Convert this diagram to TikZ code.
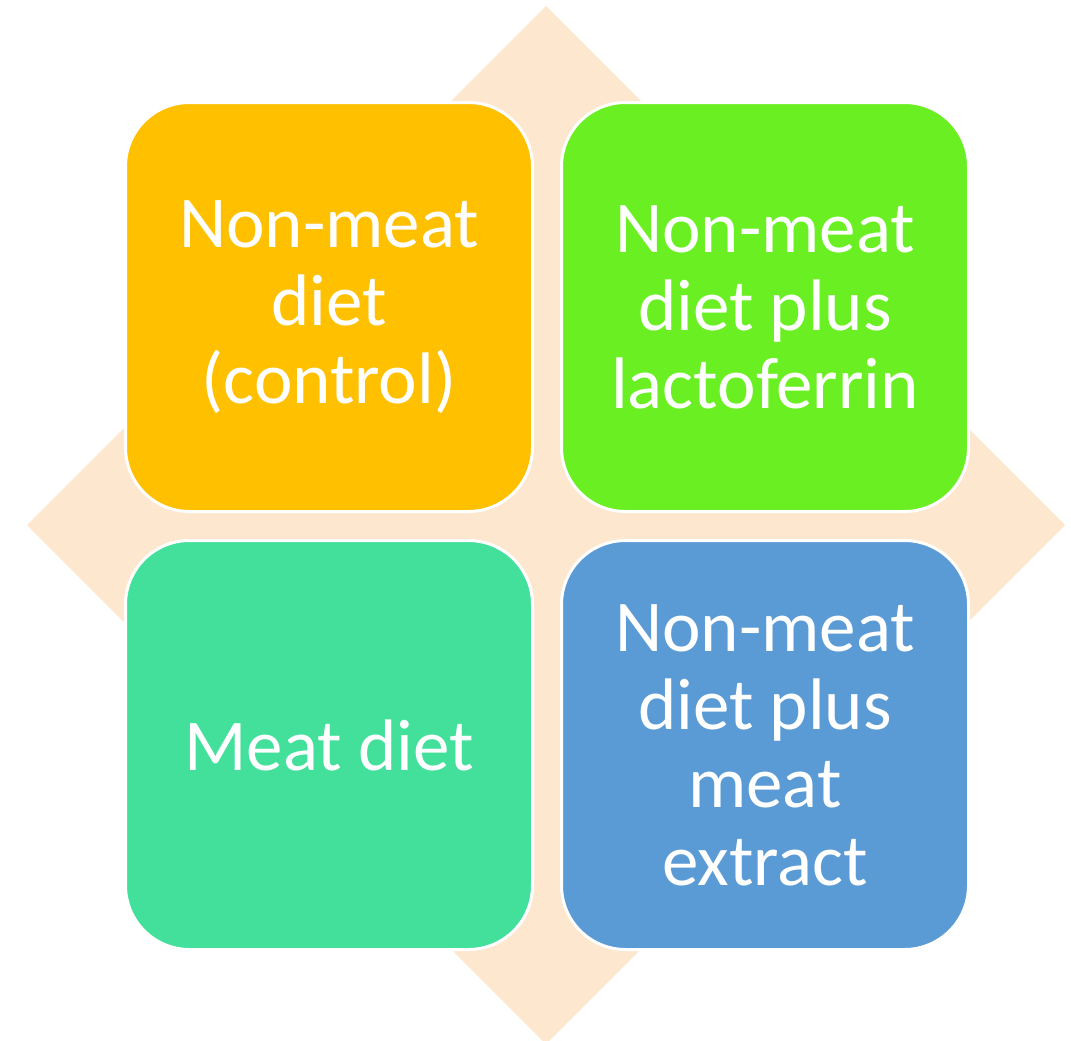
\documentclass[tikz,border=0pt]{standalone}
\usepackage{fontspec}
\setmainfont{Carlito}
\usetikzlibrary{positioning}

\definecolor{peach}{HTML}{FDE7CE}
\definecolor{gold}{HTML}{FFC000}
\definecolor{lime}{HTML}{6AF022}
\definecolor{mint}{HTML}{42E09B}
\definecolor{sky}{HTML}{5B9BD5}

\tikzset{
  quad/.style={draw=white, line width=3pt, rounded corners=64pt,
    minimum width=407pt, minimum height=409pt, inner sep=0pt,
    text=white, align=center, font=\fontsize{73}{78}\selectfont},
}

\begin{document}
\begin{tikzpicture}[x=1pt, y=-1pt, node distance=26pt]
\useasboundingbox (0,0) rectangle (1071,1041);
% background diamond
\fill[peach] (546,6) -- (1065,525) -- (546,1044) -- (27,525) -- cycle;
% the four groups
\node[quad, fill=gold] (control) at (329,307) {Non-meat\\diet\\(control)};
\node[quad, fill=lime, right=of control] (lacto) {Non-meat\\diet plus\\lactoferrin};
\node[quad, fill=mint, below=of control] (meat) {Meat diet};
\node[quad, fill=sky, below=of lacto] (extract) {Non-meat\\diet plus\\meat\\extract};
\end{tikzpicture}
\end{document}
